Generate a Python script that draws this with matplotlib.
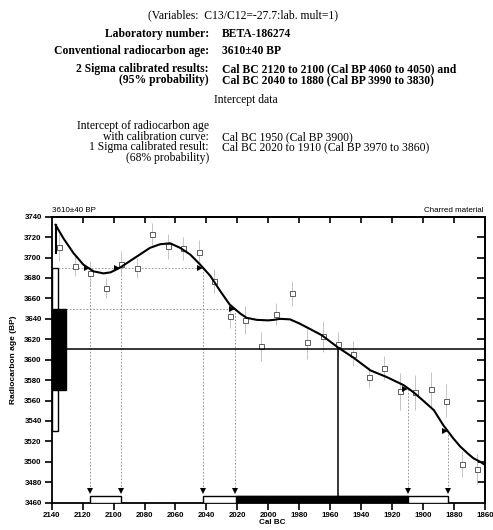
import numpy as np
import matplotlib
matplotlib.use("Agg")
import matplotlib.pyplot as plt
from matplotlib.patches import Rectangle

W, H = 493, 530
SERIF = "Liberation Serif"
SANS = "Liberation Sans"

# calibration curve (cal BC, radiocarbon age BP)
curve_year = [2137.5, 2132.5, 2126, 2119.5, 2113, 2106.5, 2102, 2096, 2089.5, 2083,
              2076.5, 2070, 2063.5, 2057, 2050.5, 2044, 2037.5, 2031, 2025, 2018,
              2014, 2007.5, 2000, 1996.5, 1992.5, 1986, 1980, 1973, 1965.5, 1955,
              1945, 1934, 1923.5, 1912.5, 1906.5, 1900, 1893, 1887, 1880.5, 1876,
              1871, 1867.5, 1863, 1860]
curve_age = [3732, 3719, 3704.5, 3693, 3686.5, 3684.5, 3685.5, 3690, 3696.5, 3703,
             3709.5, 3713, 3714, 3709.5, 3703, 3693, 3682, 3667, 3654, 3645,
             3641, 3639, 3638.5, 3639, 3640, 3639.5, 3635.5, 3630, 3624, 3612,
             3602, 3589.5, 3583, 3575, 3568.5, 3560, 3550.5, 3536, 3523, 3515,
             3508, 3503.5, 3500, 3497]

# dendro-dated measurements
meas_year = [2135, 2125, 2115, 2105, 2095, 2085, 2075, 2065, 2055, 2045, 2035, 2025, 2015, 2005,
             1995, 1985, 1975, 1965, 1955, 1945, 1935, 1925, 1915, 1905, 1895, 1885, 1875, 1865]
meas_age = [3710, 3692, 3685, 3670, 3694, 3690, 3723, 3711, 3709, 3705, 3677, 3643, 3639, 3613,
            3645, 3665, 3617, 3623, 3615, 3606, 3583, 3592, 3569, 3568, 3571, 3560, 3498, 3493]
meas_err = [13, 10, 12, 10, 12, 10, 11, 12, 11, 12, 12, 12, 14, 14,
            11, 12, 16, 15, 12, 12, 10, 12, 18, 17, 17, 16, 13, 15]

# sample age and sigma ranges
sample_age = 3610
sample_err = 40
intercept_year = 1955
one_sigma = [(2021, 1909.5)]
two_sigma = [(2115, 2095.5), (2042, 1884)]
two_sigma_age = [(3690, 3530)]
one_sigma_age = [(3650, 3570)]
# where the age limits meet the curve (year, age)
hits = [(2115, 3690), (2095.5, 3690), (2042, 3690), (2021.5, 3650), (1909.5, 3571), (1884, 3530)]

# report text: (label, value, row centre in px)
header_rows = [
    ("Laboratory number:", "BETA-186274", 34),
    ("Conventional radiocarbon age:", "3610\u00b140 BP", 51),
    ("2 Sigma calibrated results:\n(95% probability)",
     "Cal BC 2120 to 2100 (Cal BP 4060 to 4050) and\nCal BC 2040 to 1880 (Cal BP 3990 to 3830)", 74.5),
]
icpt_labels = ("Intercept of radiocarbon age\nwith calibration curve:\n"
               "1 Sigma calibrated result:\n(68% probability)")
icpt_values = "Cal BC 1950 (Cal BP 3900)\nCal BC 2020 to 1910 (Cal BP 3970 to 3860)"


def px(x, y):
    return x / W, 1 - y / H


def DrawHeader(fig):
    fs = 8.4
    fig.text(*px(243, 15), "(Variables:  C13/C12=-27.7:lab. mult=1)", family=SERIF,
             fontsize=fs, ha="center", va="center")
    for lab, val, y in header_rows:
        fig.text(*px(209, y), lab, family=SERIF, fontsize=fs, weight="bold", ha="right",
                 va="center", linespacing=0.93)
        fig.text(*px(222, y), val, family=SERIF, fontsize=fs, weight="bold", ha="left",
                 va="center", linespacing=0.93)
    fig.text(*px(246, 100), "Intercept data", family=SERIF, fontsize=fs, ha="center", va="center")
    fig.text(*px(209, 142), icpt_labels, family=SERIF, fontsize=fs, ha="right", va="center",
             linespacing=0.82)
    fig.text(*px(222, 142), icpt_values, family=SERIF, fontsize=fs, ha="left", va="center",
             linespacing=0.82)


def DrawCalibration(ax):
    x0, x1 = 2140, 1860
    ax.set_xlim(x0, x1)
    ax.set_ylim(3460, 3740)

    # probability boxes on the age axis
    for hi, lo in two_sigma_age:
        ax.add_patch(Rectangle((x0, lo), -4.3, hi - lo, fc="white", ec="black", lw=1.0, zorder=4))
    for hi, lo in one_sigma_age:
        ax.add_patch(Rectangle((x0, lo), -9.0, hi - lo, fc="black", ec="black", lw=1.0, zorder=5))

    # dotted guides from the age limits to the curve
    ax.plot([2135.7, 2042], [3690, 3690], color="#888888", lw=0.6, ls=(0, (2, 2)), zorder=2)
    ax.plot([2131, 2021.5], [3650, 3650], color="#888888", lw=0.6, ls=(0, (2, 2)), zorder=2)

    # measurements with error bars
    ax.errorbar(meas_year, meas_age, yerr=meas_err, fmt="s", ms=3.6, mfc="white",
                mec="#444444", mew=0.6, ecolor="#bbbbbb", elinewidth=0.6, capsize=0, zorder=3)

    ax.plot(curve_year, curve_age, color="black", lw=1.5, zorder=6, solid_joinstyle="round")
    ax.plot([curve_year[0], curve_year[0]], [curve_age[0], 3704], color="black", lw=1.5, zorder=6)

    # sample age and intercept
    ax.plot([2131, x1], [sample_age, sample_age], color="black", lw=1.1, zorder=5)
    ax.plot([intercept_year, intercept_year], [sample_age, 3460], color="black", lw=1.1, zorder=5)

    for yr, age in hits:
        ax.plot([yr, yr], [age, 3472], color="#888888", lw=0.6, ls=(0, (2, 2)), zorder=2)
        ax.plot(yr + 2.0, age, marker=">", ms=4.5, color="black", mew=0, zorder=7)
        ax.plot(yr, 3471, marker="v", ms=4.2, color="black", mew=0, zorder=7)

    # calibrated ranges along the year axis
    for a, b in two_sigma:
        ax.add_patch(Rectangle((a, 3460), b - a, 6.5, fc="white", ec="black", lw=1.0, zorder=4))
    for a, b in one_sigma:
        ax.add_patch(Rectangle((a, 3460), b - a, 6.5, fc="black", ec="black", lw=1.0, zorder=5))

    ax.set_xticks(np.arange(2140, 1859, -20))
    ax.set_yticks(np.arange(3460, 3741, 20))
    ax.tick_params(direction="out", length=5, width=1.2, labelsize=5.7, pad=2.2)
    ax.tick_params(axis="x", pad=1.6)
    for t in ax.get_xticklabels() + ax.get_yticklabels():
        t.set_family(SANS)
        t.set_weight("bold")

    top = ax.secondary_xaxis("top")
    top.set_xticks(np.arange(2120, 1870, -20))
    top.tick_params(direction="in", length=4.5, width=1.2, labeltop=False)
    right = ax.secondary_yaxis("right")
    right.set_yticks(np.arange(3480, 3730, 20))
    right.tick_params(direction="in", length=6, width=1.2, labelright=False)
    for sp in list(ax.spines.values()) + [top.spines["top"], right.spines["right"]]:
        sp.set_linewidth(1.3)


def Main():
    fig = plt.figure(figsize=(W / 100, H / 100), dpi=100)
    DrawHeader(fig)
    ax = fig.add_axes([51.7 / W, 1 - 502.7 / H, 433.3 / W, 286 / H])
    DrawCalibration(ax)

    fig.text(*px(51.7, 210.5), "3610\u00b140 BP", family=SANS, fontsize=5.8, ha="left", va="center")
    fig.text(*px(484, 210.5), "Charred material", family=SANS, fontsize=5.8, ha="right", va="center")
    fig.text(*px(13.5, 360), "Radiocarbon age (BP)", family=SANS, fontsize=6, weight="bold",
             rotation=90, ha="center", va="center")
    fig.text(*px(272, 523), "Cal BC", family=SANS, fontsize=5.8, weight="bold", ha="center", va="center")

    fig.savefig("out.png", dpi=100)
    plt.close(fig)


if __name__ == "__main__":
    Main()
